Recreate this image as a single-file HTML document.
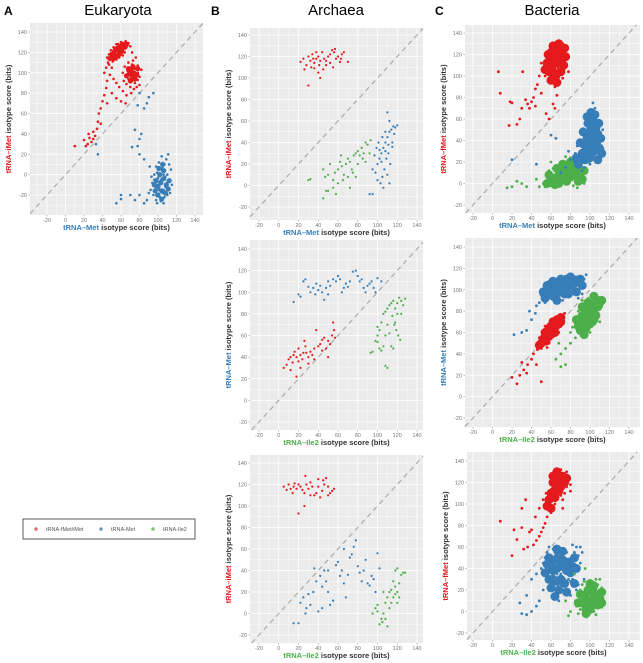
<!DOCTYPE html>
<html><head><meta charset="utf-8">
<style>
html,body{margin:0;padding:0;background:#fff;}
svg{display:block;font-family:"Liberation Sans",Arial,sans-serif;}
</style></head>
<body>
<svg id="fig" width="643" height="663" viewBox="0 0 643 663" xmlns="http://www.w3.org/2000/svg">
<text x="4" y="15" font-size="12" font-weight="bold">A</text>
<text x="118" y="15" font-size="15" text-anchor="middle">Eukaryota</text>
<text x="211" y="15" font-size="12" font-weight="bold">B</text>
<text x="336" y="15" font-size="15" text-anchor="middle">Archaea</text>
<text x="435" y="15" font-size="12" font-weight="bold">C</text>
<text x="552" y="15" font-size="15" text-anchor="middle">Bacteria</text>
<g>
<rect x="23" y="519" width="172" height="20" fill="#fff" stroke="#333" stroke-width="0.8"/>
<circle cx="36" cy="529" r="1.8" fill="#e8706a"/>
<text x="46" y="531" font-size="5.5" fill="#555">tRNA-fMet/iMet</text>
<circle cx="101" cy="529" r="1.8" fill="#6f9ac8"/>
<text x="111" y="531" font-size="5.5" fill="#555">tRNA-Met</text>
<circle cx="153" cy="529" r="1.8" fill="#7cc474"/>
<text x="163" y="531" font-size="5.5" fill="#555">tRNA-Ile2</text>
</g>
</svg>
<script>
const tickValues = [-20,0,20,40,60,80,100,120,140];
const RED="#e41a1c", BLUE="#377eb8", GREEN="#4daf4a";

const eukRed = "52,125 55,128 58,126 60,130 62,128 65,131 67,127 63,124 60,122 57,120 54,118 50,116 48,113 46,110 45,115 49,119 53,121 56,123 59,125 61,121 64,120 62,117 58,115 55,113 51,111 47,108 44,105 42,100 50,105 66,125 68,129 70,126 57,128 53,124 49,122 47,118 70,105 72,108 75,104 78,100 80,96 76,95 73,98 70,100 67,102 65,97 68,94 72,92 75,90 78,93 80,88 77,86 74,84 70,86 66,89 63,92 62,100 64,106 68,110 73,112 78,107 82,103 71,80 66,78 62,82 58,86 55,90 52,94 48,98 45,92 44,85 42,78 40,72 38,65 36,60 35,52 34,45 32,38 30,35 28,32 26,36 24,30 22,28 20,34 10,28 25,40 30,42 38,50 45,70 50,80 55,75 60,72 65,70 72,120 76,115";
const eukRedCore = "50,118 53,121 56,124 59,126 62,128 64,125 61,121 58,118 55,116 52,114 48,114 57,122 60,124 66,128 68,104 71,102 74,100 77,98 72,96 69,99 75,94 78,104 66,97 70,92 73,106";
const eukBlue = "100,-10 103,-5 106,0 108,-12 110,-8 112,-15 105,-18 102,-22 98,-25 95,-20 97,-12 100,-3 104,5 107,10 109,15 111,20 104,18 101,12 98,8 96,0 94,-8 92,-15 99,-28 103,-26 107,-22 110,-20 113,-5 114,5 112,10 106,-15 108,-2 101,-15 96,-5 93,-2 90,-18 88,-25 85,-28 80,-20 75,-25 60,-20 55,-28 105,7 110,0 115,-10 102,-8 99,2 91,8 85,15 80,20 82,40 80,35 78,28 75,44 85,65 88,70 90,76 95,80 80,80 78,68 72,27 33,30 35,20 60,-24 70,-20 98,-20 106,-28 113,-18";
const eukBlueCore = "100,-12 103,-8 106,-4 109,-10 111,-14 104,-16 100,-20 97,-16 98,-6 102,0 106,4 108,-18 104,-24 112,-6 96,-10 101,6 105,10";

const arc1Red = "22,115 25,118 28,112 30,120 32,116 34,122 36,114 38,118 40,120 42,116 44,124 46,118 48,112 50,120 52,122 54,126 56,124 58,118 60,120 62,115 64,122 66,124 70,115 36,109 40,105 42,100 30,93 33,110 45,108 48,116 52,114 55,110 38,124 26,108 35,118 41,112 57,127 63,118";
const arc1Blue = "100,20 102,25 104,30 106,35 108,40 110,45 112,50 114,52 116,55 118,54 120,56 112,60 110,68 98,12 100,5 103,2 105,8 107,15 109,25 111,30 113,20 115,40 117,48 95,15 97,28 99,35 101,40 105,45 108,50 110,10 112,2 106,-2 92,-8 95,-8 104,22 108,32 115,36 111,38 102,33";
const arc1Green = "30,5 32,6 45,15 47,8 50,10 52,20 55,5 57,12 60,15 62,22 64,18 66,10 68,20 70,25 72,22 74,15 76,28 78,30 80,32 82,28 84,35 86,30 88,40 90,38 92,30 85,25 80,20 75,12 70,8 65,5 60,2 55,-2 50,-5 45,-12 48,-5 58,-8 72,-2 78,8 88,22 93,42 63,28";

const arc2Blue = "15,91 20,98 22,96 25,110 27,112 30,105 32,100 35,104 37,98 40,102 42,106 44,100 46,93 48,104 50,110 52,106 55,112 58,110 60,115 62,112 64,100 66,104 68,108 70,105 72,110 75,119 78,120 80,115 82,110 84,112 86,104 88,100 90,106 92,108 94,110 96,104 98,100 100,113 104,110 50,98 38,108";
const arc2Red = "5,30 8,33 10,38 12,40 14,35 15,42 16,45 18,40 20,36 22,42 24,38 26,55 27,50 28,44 30,40 32,45 34,42 36,48 38,65 40,50 42,52 44,56 46,58 48,48 50,55 52,52 54,60 55,72 56,65 57,58 12,28 18,22 22,30 30,34 36,38 44,46 50,40 25,44 20,48";
const arc2Green = "95,45 98,55 100,60 102,65 104,72 106,80 108,82 110,85 112,88 114,90 116,92 118,85 120,90 122,95 124,92 126,88 128,94 115,78 117,70 119,65 121,60 123,56 110,70 108,60 106,50 104,46 102,48 100,54 112,62 114,50 116,48 118,72 120,80 124,80 108,32 110,30 100,68 93,44";

const arc3Red = "5,118 8,115 10,120 12,116 14,112 15,118 16,121 18,116 20,120 22,118 24,115 26,112 27,128 28,120 30,116 32,122 34,118 36,110 38,112 40,118 42,108 44,114 45,124 46,120 48,126 50,118 52,112 54,114 56,116 20,93 26,100 32,110 40,125 50,110";
const arc3Blue = "15,-9 20,-9 22,10 25,15 27,0 28,5 30,18 32,8 35,20 38,30 40,2 42,35 44,25 46,40 48,30 50,20 52,8 55,12 58,45 60,48 62,35 64,40 66,28 68,15 70,36 72,52 74,55 76,62 78,68 80,44 82,38 84,30 86,40 88,50 90,28 92,26 94,35 96,32 98,20 100,56 102,42 66,60 50,40 36,42 44,5";
const arc3Green = "95,0 98,5 100,8 102,-10 104,-5 106,0 108,10 110,15 112,20 114,22 116,30 118,25 120,20 122,28 124,36 126,38 128,38 120,42 118,40 110,-12 108,-5 112,5 114,10 116,15 118,18 120,10 122,15 105,-8 100,2 106,20";

const bac1Red = "60,120 62,125 64,128 66,130 68,132 70,128 72,125 74,122 73,118 71,115 69,112 67,118 65,122 63,116 61,112 59,118 58,124 60,128 62,130 64,122 66,124 68,126 70,120 72,130 74,115 75,128 63,110 65,105 67,108 58,110 56,104 54,100 52,108 50,112 55,115 57,95 60,100 62,96 64,90 66,100 68,104 70,110 72,108 48,100 46,92 44,88 42,80 40,76 38,70 36,74 34,78 30,70 28,60 25,55 20,75 18,76 17,54 8,84 6,104 31,104 44,72 50,84 55,65 58,60 62,74 64,70 66,82 72,98 78,104 75,110 57,122 69,124 71,122 65,127";
const bac1RedCore = "62,124 65,126 68,128 70,124 72,120 69,118 66,120 63,118 60,116 64,112 67,114 71,112 74,126 61,106 65,100 58,104 62,128 68,130 56,112 54,106 60,96 66,94 70,104 73,110 57,120 75,118";
const bac1Blue = "90,20 92,25 94,30 96,35 98,40 100,45 102,50 104,55 106,60 108,65 105,70 103,75 100,60 98,52 96,46 94,40 92,35 90,30 88,25 86,20 100,30 102,35 104,40 106,45 108,50 110,40 112,35 110,25 108,20 106,25 104,28 102,22 100,18 98,25 96,20 94,15 92,12 95,55 97,60 99,65 101,55 103,45 105,35 107,30 109,35 111,45 113,50 99,35 101,40 93,45 91,50 89,40 87,35 85,28 84,20 107,55 103,62 97,30 99,20 95,25 80,22 75,15 70,10 65,42 78,30 60,45 45,18 20,22";
const bac1BlueCore = "96,30 99,34 102,38 105,42 108,46 100,48 103,54 97,42 94,36 92,28 95,22 100,24 104,30 107,36 110,32 106,52 102,60 98,56 90,24 88,18 93,48 97,62 101,66 105,64 109,56 111,42 112,28 108,22 86,24 90,38";
const bac1Green = "55,0 58,5 60,8 62,2 64,6 66,10 68,14 70,18 72,12 74,8 76,4 78,0 80,5 82,10 84,15 86,20 88,12 90,8 92,4 94,0 70,-2 72,3 74,14 76,20 78,16 80,24 82,18 84,6 86,2 88,24 90,22 68,4 66,-2 64,12 62,14 60,-2 58,12 56,6 54,-3 52,0 75,25 79,10 83,-2 87,-4 70,10 74,0 60,20 48,-3 45,4 35,-3 30,0 25,2 20,-3 15,-4 92,14 94,22 78,22";
const bac1GreenCore = "62,4 66,6 70,8 74,10 78,12 82,14 86,12 84,8 80,6 76,2 72,4 68,0 64,-1 70,14 76,16 88,16 90,10 60,2 56,0 58,8 92,4 80,20 84,20 72,18 66,14 88,2 94,12";

const bac2Blue = "50,95 52,100 54,88 56,105 58,98 60,102 62,108 64,95 66,100 68,110 70,104 72,96 74,106 76,112 78,100 80,108 82,104 84,110 86,112 88,106 90,102 92,108 94,110 96,114 60,92 64,88 68,94 72,90 76,94 80,98 84,96 88,92 56,90 48,88 45,85 66,106 70,112 74,102 78,110 82,100 62,98 86,100 58,108 54,96 44,78 40,72 35,62 30,60 22,58 38,80 92,96";
const bac2BlueCore = "60,100 64,102 68,104 72,106 76,104 80,104 84,106 88,108 70,98 74,96 78,96 66,96 62,94 82,110 76,110 58,96 54,92 52,98 56,104 92,104 90,110 86,98 62,108 70,110 80,112 66,90";
const bac2Red = "45,48 48,55 50,52 52,60 54,58 56,62 58,66 60,60 62,68 64,64 66,70 68,72 70,66 72,74 74,78 60,54 58,50 56,46 55,55 62,58 64,72 66,62 68,60 70,76 52,48 50,45 46,44 42,40 40,35 36,30 32,25 30,32 28,20 25,12 20,18 35,22 45,30 50,14 60,56 54,66 63,62 67,66";
const bac2RedCore = "56,56 59,60 62,64 65,66 68,68 64,60 60,58 58,64 66,72 70,70 55,52 52,54 50,50 48,48 62,70 70,74 60,66 54,60";
const bac2Green = "80,60 82,65 84,70 86,75 88,80 90,85 92,90 94,82 96,88 98,92 100,80 102,85 104,90 106,95 108,88 110,92 112,84 114,90 96,70 98,65 100,60 102,72 104,76 106,80 94,62 92,58 90,66 88,70 98,75 100,85 108,78 110,70 85,55 80,50 75,45 70,40 65,35 68,50 75,30 70,28 105,68 96,56 102,94";
const bac2GreenCore = "96,78 100,82 104,86 108,90 102,78 98,72 94,70 92,76 100,68 104,72 108,84 110,88 90,62 96,64 88,66 86,72 92,84 98,88 104,94 112,90 106,76 94,58";

const bac3Red = "60,118 62,122 64,126 66,130 68,128 70,124 72,120 74,126 76,130 70,132 66,120 64,114 62,108 60,104 58,100 56,96 58,112 62,116 68,118 72,114 74,110 76,116 78,122 80,118 64,100 66,106 68,110 70,108 72,104 60,92 56,88 54,82 52,78 50,74 48,70 45,66 42,62 40,76 38,74 36,60 32,58 30,78 25,67 22,76 20,52 8,84 30,96 34,104 44,88 48,96 52,104 55,110 72,96 80,112 66,124 74,128";
const bac3RedCore = "62,120 65,124 68,126 71,122 74,120 70,116 66,116 63,112 68,112 72,126 64,106 60,110 66,130 58,104 56,98 60,96 76,124 62,126";
const bac3Blue = "50,40 52,45 54,50 56,55 58,60 60,52 62,45 64,40 66,35 68,30 70,25 72,20 74,30 76,35 78,40 80,45 82,50 84,55 86,60 88,52 90,45 60,30 62,25 64,20 66,15 68,10 70,35 72,45 74,50 76,25 78,20 80,15 82,30 84,35 86,20 88,25 56,38 58,32 60,48 62,58 64,55 66,50 68,45 70,55 72,58 74,40 76,55 78,30 80,28 52,20 48,10 45,5 40,0 35,-3 30,-2 28,8 35,15 40,30 45,35 90,60 92,55 94,30 82,62";
const bac3BlueCore = "62,38 66,40 70,42 74,44 78,46 64,48 68,52 72,48 76,38 70,30 66,28 62,30 60,42 74,26 80,36 58,50 82,42 56,44 54,36 60,22 68,20 76,18 84,26 86,40 84,50 66,58 72,56 58,30 64,14";
const bac3Green = "85,10 88,15 90,20 92,25 94,18 96,12 98,8 100,5 102,10 104,15 106,20 108,12 110,8 112,4 114,10 100,0 98,-3 96,-5 94,0 92,5 90,2 88,-2 86,5 104,25 106,30 100,20 102,28 108,25 110,18 112,22 96,22 94,28 98,15 104,0 106,-3 100,12 92,12 80,0 78,-4 75,10 84,35 95,40 110,30";
const bac3GreenCore = "96,8 100,10 104,12 108,14 100,2 96,2 92,8 104,6 108,6 102,18 106,16 110,12 94,14 98,20 90,16 88,8 112,8 112,18 104,24 96,-2 100,26";

const NS="http://www.w3.org/2000/svg";
const svg=document.getElementById('fig');
function mk(tag,attrs,parent){const e=document.createElementNS(NS,tag);for(const k in attrs)e.setAttribute(k,attrs[k]);(parent||svg).appendChild(e);return e;}
function parse(s){return s.trim().split(/\s+/).map(p=>p.split(',').map(Number));}

const panels=[
 {id:'a',L:30,R:203,T:23,B:215,xa:47,xb:195,ya:32,yb:195,xl:['tRNA\u2013Met',BLUE],yl:['tRNA\u2013iMet',RED],series:[[eukRed,RED,'red',1.3],[eukRedCore,RED,'red-core',2.6],[eukBlue,BLUE,'blue',1.3],[eukBlueCore,BLUE,'blue-core',2.6]]},
 {id:'b1',L:250,R:423,T:28,B:220,xa:259,xb:417,ya:35,yb:207,xl:['tRNA\u2013Met',BLUE],yl:['tRNA\u2013iMet',RED],series:[[arc1Red,RED,'red',1.1],[arc1Green,GREEN,'green',1.1],[arc1Blue,BLUE,'blue',1.1]]},
 {id:'b2',L:250,R:423,T:240,B:430,xa:259,xb:417,ya:249,yb:422,xl:['tRNA\u2013Ile2',GREEN],yl:['tRNA\u2013Met',BLUE],series:[[arc2Blue,BLUE,'blue',1.1],[arc2Red,RED,'red',1.1],[arc2Green,GREEN,'green',1.1]]},
 {id:'b3',L:250,R:423,T:455,B:643,xa:259,xb:417,ya:463,yb:635,xl:['tRNA\u2013Ile2',GREEN],yl:['tRNA\u2013iMet',RED],series:[[arc3Red,RED,'red',1.1],[arc3Blue,BLUE,'blue',1.1],[arc3Green,GREEN,'green',1.1]]},
 {id:'c1',L:465,R:640,T:25,B:213,xa:473,xb:629,ya:33,yb:205,xl:['tRNA\u2013Met',BLUE],yl:['tRNA\u2013fMet',RED],series:[[bac1Red,RED,'red',1.4],[bac1RedCore,RED,'red-core',4.5],[bac1Green,GREEN,'green',1.4],[bac1GreenCore,GREEN,'green-core',4.5],[bac1Blue,BLUE,'blue',1.4],[bac1BlueCore,BLUE,'blue-core',4.5]]},
 {id:'c2',L:465,R:640,T:238,B:427,xa:473,xb:629,ya:247,yb:418,xl:['tRNA\u2013Ile2',GREEN],yl:['tRNA\u2013Met',BLUE],series:[[bac2Blue,BLUE,'blue',1.4],[bac2BlueCore,BLUE,'blue-core',4.5],[bac2Red,RED,'red',1.4],[bac2RedCore,RED,'red-core',4.5],[bac2Green,GREEN,'green',1.4],[bac2GreenCore,GREEN,'green-core',4.5]]},
 {id:'c3',L:467,R:640,T:452,B:640,xa:473,xb:629,ya:461,yb:633,xl:['tRNA\u2013Ile2',GREEN],yl:['tRNA\u2013fMet',RED],series:[[bac3Red,RED,'red',1.4],[bac3RedCore,RED,'red-core',4.5],[bac3Blue,BLUE,'blue',1.4],[bac3BlueCore,BLUE,'blue-core',4.5],[bac3Green,GREEN,'green',1.4],[bac3GreenCore,GREEN,'green-core',4.5]]}
];

panels.forEach(p=>{
 const xs=v=>p.xa+(v+20)*(p.xb-p.xa)/160;
 const ys=v=>p.yb-(v+20)*(p.yb-p.ya)/160;
 const g=mk('g',{});
 
 
 const bg=mk('rect',{x:p.L,y:p.T,width:p.R-p.L,height:p.B-p.T,fill:'#ebebeb'},g);
 
 
 for(let v=-30;v<=150;v+=10){
  const major=v%20===0;
  const X=xs(v),Y=ys(v);
  if(X>p.L&&X<p.R) mk('line',{x1:X,x2:X,y1:p.T,y2:p.B,stroke:'#fff','stroke-width':major?0.8:0.4},g);
  if(Y>p.T&&Y<p.B) mk('line',{x1:p.L,x2:p.R,y1:Y,y2:Y,stroke:'#fff','stroke-width':major?0.8:0.4},g);
 }
 tickValues.forEach(v=>{
  const X=xs(v),Y=ys(v);
  const tx=mk('text',{x:X,y:p.B+7,'font-size':5.5,fill:'#777','text-anchor':'middle'},g);
  tx.textContent=v;
  
  
  mk('line',{x1:X,x2:X,y1:p.B,y2:p.B+1.5,stroke:'#777','stroke-width':0.5},g);
  const ty=mk('text',{x:p.L-3,y:Y+2,'font-size':5.5,fill:'#777','text-anchor':'end'},g);
  ty.textContent=v;
  
  
  mk('line',{x1:p.L-1.5,x2:p.L,y1:Y,y2:Y,stroke:'#777','stroke-width':0.5},g);
 });
 const lo=Math.max((p.L-p.xa)*160/(p.xb-p.xa)-20,(p.yb-p.B)*160/(p.yb-p.ya)-20);
 const hi=Math.min((p.R-p.xa)*160/(p.xb-p.xa)-20,(p.yb-p.T)*160/(p.yb-p.ya)-20);
 const d=mk('line',{x1:xs(lo),y1:ys(lo),x2:xs(hi),y2:ys(hi),stroke:'#aaa','stroke-width':1.2,'stroke-dasharray':'5,4'},g);
 
 
 p.series.forEach(s=>{
  const sg=mk('g',{fill:s[1]},g);
  
  
  parse(s[0]).forEach(pt=>{
   const c=mk('circle',{cx:xs(pt[0]).toFixed(1),cy:ys(pt[1]).toFixed(1),r:s[3]},sg);
   
   
  });
 });
 const xt=mk('text',{x:(p.L+p.R)/2,y:p.B+15,'font-size':7.5,'font-weight':'bold','text-anchor':'middle',fill:'#333'},g);
 
 
 const t1=mk('tspan',{fill:p.xl[1]},xt); t1.textContent=p.xl[0];
 const t2=mk('tspan',{},xt); t2.textContent=' isotype score (bits)';
 const cy=(p.T+p.B)/2, cx=p.L-19;
 const yt=mk('text',{x:cx,y:cy,'font-size':7.5,'font-weight':'bold','text-anchor':'middle',fill:'#333',transform:`rotate(-90 ${cx} ${cy})`},g);
 
 
 const u1=mk('tspan',{fill:p.yl[1]},yt); u1.textContent=p.yl[0];
 const u2=mk('tspan',{},yt); u2.textContent=' isotype score (bits)';
});
</script>
</body></html>
